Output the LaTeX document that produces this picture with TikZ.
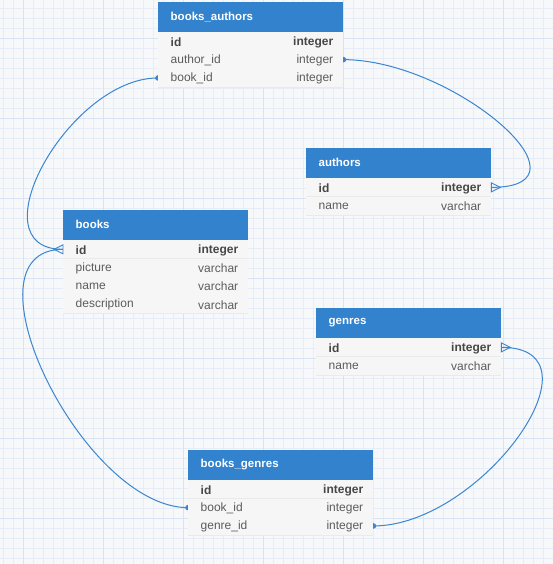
\documentclass[tikz,border=0pt]{standalone}
\usepackage{fontspec}
\setmainfont{Liberation Sans}
\usetikzlibrary{calc}
\definecolor{bgc}{HTML}{F7F8FA}
\definecolor{gridc}{HTML}{E6ECF8}
\definecolor{gridmaj}{HTML}{D8E3F5}
\definecolor{hdr}{HTML}{3282CD}
\definecolor{rowbg}{HTML}{F6F6F6}
\definecolor{rowsep}{HTML}{EAEAEA}
\definecolor{txt}{HTML}{5C5C5C}
\definecolor{txtb}{HTML}{474747}
\definecolor{lnk}{HTML}{3A86D0}
\pgfdeclarelayer{bg}
\pgfsetlayers{bg,main}
\tikzset{
  hdrbox/.style={rectangle, fill=hdr, minimum width=185pt, minimum height=30pt, inner sep=0pt},
  hdrtxt/.style={text=white, font=\fontsize{11.5}{14}\selectfont\bfseries, inner sep=0pt},
  rowbox/.style={rectangle, fill=rowbg, minimum width=185pt, minimum height=18.3pt, inner sep=0pt},
  rowtxt/.style={text=txt, font=\fontsize{12}{14}\selectfont, inner sep=0pt},
  conn/.style={draw=lnk, line width=1pt},
  crow/.style={draw=lnk, line width=0.9pt, line join=miter},
}
\newcommand{\erdtab}[5]{%
  \node[hdrbox, anchor=north west] (#1) at (#2,#3) {};
  \node[hdrtxt, anchor=west] (#1-title) at ($(#1.west)+(12.5,-0.5)$) {#4};
  \foreach \n/\t [count=\i] in {#5}{%
    \pgfmathsetmacro\ry{#3+30+(\i-1)*18.3}
    \node[rowbox, anchor=north west] (#1-\i) at (#2,\ry) {};
    \draw[rowsep, line width=0.6pt] (#1-\i.south west) -- (#1-\i.south east);
    \node[rowtxt, anchor=west] (#1-\i-n) at ($(#1-\i.west)+(12.5,0.6)$) {\ifnum\i=1 \color{txtb}\bfseries\fi\n};
    \node[rowtxt, anchor=east] (#1-\i-t) at ($(#1-\i.east)+(-10,0.6)$) {\ifnum\i=1 \color{txtb}\bfseries\fi\t};
  }%
}
\newcommand{\crowright}[1]{%
  \draw[crow] ($(#1)+(0,-4.5)$) -- ($(#1)+(9,0)$) -- ($(#1)+(0,4.5)$) -- cycle;
}
\newcommand{\crowleft}[1]{%
  \draw[crow] ($(#1)+(0,-4.5)$) -- ($(#1)+(-9,0)$) -- ($(#1)+(0,4.5)$) -- cycle;
}
\begin{document}
\begin{tikzpicture}[x=1pt, y=-1pt]
\useasboundingbox (0,0) rectangle (553,564);

\erdtab{ba}{158}{2}{books\_authors}{id/integer, author\_id/integer, book\_id/integer}
\erdtab{au}{306}{148}{authors}{id/integer, name/varchar}
\erdtab{bk}{63}{210}{books}{id/integer, picture/varchar, name/varchar, description/varchar}
\erdtab{ge}{316}{308}{genres}{id/integer, name/varchar}
\erdtab{bg}{188}{450}{books\_genres}{id/integer, book\_id/integer, genre\_id/integer}

\begin{pgfonlayer}{bg}
  \fill[bgc] (0,0) rectangle (553,564);
  \foreach \x in {3,13,...,553} \draw[gridc, line width=0.6pt] (\x,0) -- (\x,564);
  \foreach \y in {8,18,...,564} \draw[gridc, line width=0.6pt] (0,\y) -- (553,\y);
  \foreach \x in {23,103,...,553} \draw[gridmaj, line width=0.7pt] (\x,0) -- (\x,564);
  \foreach \y in {38,118,...,564} \draw[gridmaj, line width=0.7pt] (0,\y) -- (553,\y);
  % connectors
  \draw[conn] (ba-2.east) .. controls +(110,0) and +(110,0) .. (au-1.east);
  \draw[conn] (ba-3.west) .. controls +(-89,0) and +(-89,0) .. (bk-1.west);
  \draw[conn] (bg-2.west) .. controls +(-106,0) and +(-106,0) .. (bk-1.west);
  \draw[conn] (bg-3.east) .. controls +(108,0) and +(108,0) .. (ge-1.east);
  % dots
  \fill[lnk] (ba-2.east) circle (2.8);
  \fill[lnk] (ba-3.west) circle (2.8);
  \fill[lnk] (bg-2.west) circle (2.8);
  \fill[lnk] (bg-3.east) circle (2.8);
\end{pgfonlayer}

\crowright{au-1.east}
\crowright{ge-1.east}
\crowleft{bk-1.west}
\end{tikzpicture}
\end{document}
